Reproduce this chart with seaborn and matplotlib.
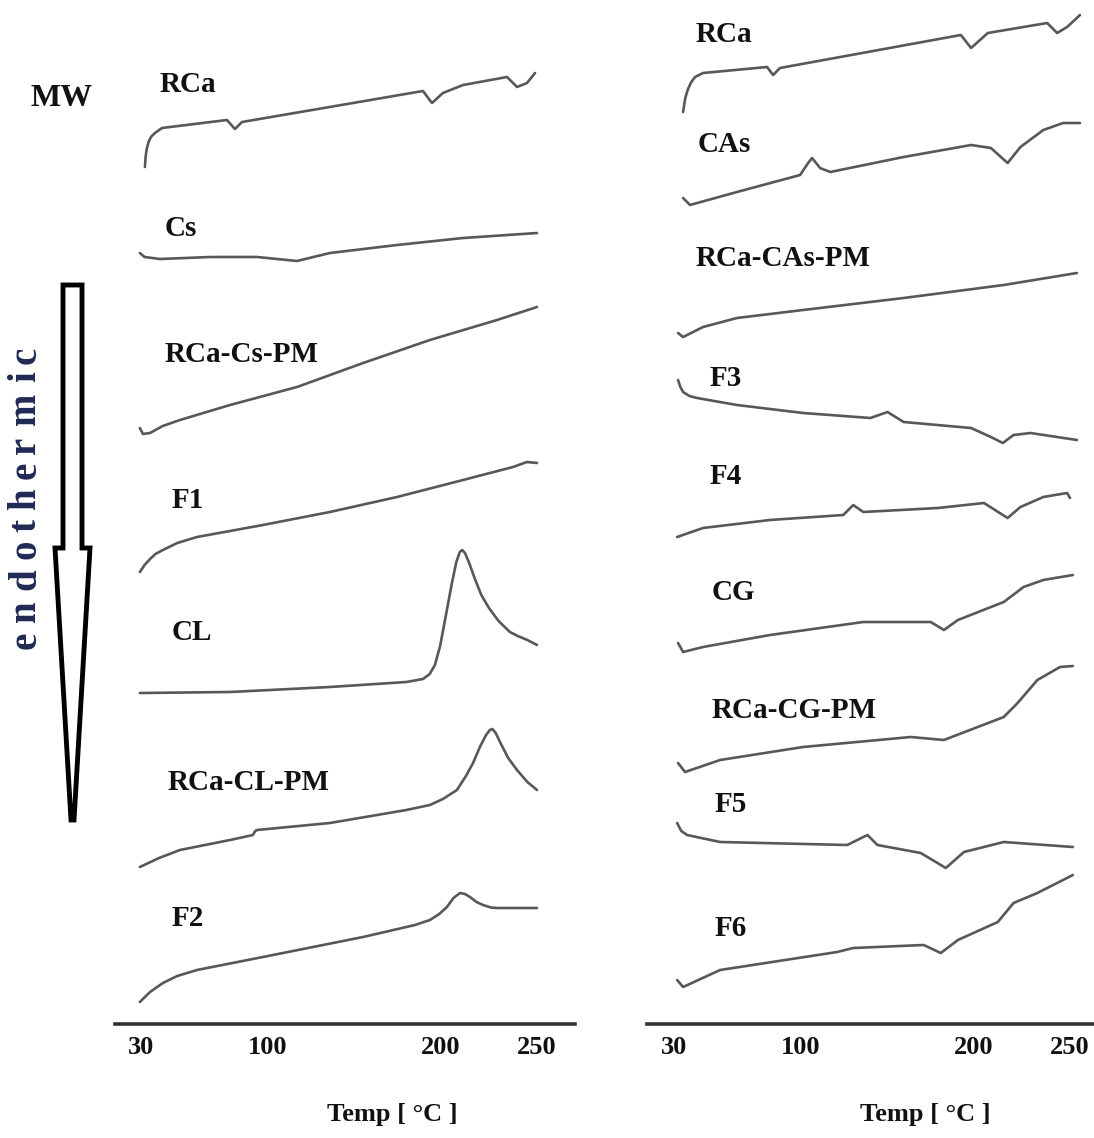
import matplotlib
matplotlib.use("Agg")
import matplotlib.pyplot as plt
import numpy as np
import pandas as pd
import seaborn as sns
from matplotlib.patches import Polygon

# ---- data (temperature in degC, heat flow in a.u., stacked) ----
left_names = ["RCa", "Cs", "RCa-Cs-PM", "F1", "CL", "RCa-CL-PM", "F2"]
left_temps = [
    [32.2, 32.6, 33.3, 34.2, 35.5, 37.7, 41.6, 77.4, 81.8, 85.7, 189.6, 194.8, 201.0, 211.5, 234.4, 239.6,
     244.8, 249.0],
    [29.4, 32.0, 40.5, 68.0, 94.0, 116.8, 135.8, 174.6, 211.5, 250.0],
    [29.4, 31.1, 35.0, 42.0, 51.5, 79.1, 116.8, 155.0, 193.6, 229.2, 250.0],
    [29.4, 32.0, 35.0, 38.0, 42.1, 50.0, 60.9, 97.2, 135.8, 174.6, 211.5, 237.5, 244.8, 250.0],
    [29.4, 79.1, 135.8, 180.0, 189.6, 193.5, 196.5, 199.5, 202.5, 205.5, 208.0, 209.8, 211.0, 212.5, 214.5,
     217.5, 221.0, 225.0, 230.0, 235.9, 240.0, 245.0, 250.0],
    [29.4, 40.0, 51.5, 79.1, 91.7, 93.0, 94.0, 135.8, 180.0, 193.6, 201.0, 208.3, 213.0, 216.7, 220.5, 223.5,
     225.5, 226.8, 228.5, 231.0, 235.0, 239.6, 245.0, 250.0],
    [29.4, 35.0, 42.1, 50.0, 60.9, 97.2, 155.0, 185.0, 193.6, 199.0, 203.1, 206.5, 209.9, 212.5, 215.1, 218.5,
     221.9, 226.0, 229.2, 250.0],
]
left_flow = [
    [85.7, 86.8, 87.6, 88.2, 88.7, 89.1, 89.6, 90.4, 89.5, 90.2, 93.3, 92.1, 93.1, 93.9, 94.7, 93.7, 94.1, 95.1],
    [77.1, 76.7, 76.5, 76.7, 76.7, 76.3, 77.1, 77.9, 78.6, 79.1],
    [59.6, 59.0, 59.1, 59.8, 60.4, 61.9, 63.7, 66.1, 68.4, 70.4, 71.7],
    [45.2, 45.9, 46.5, 47.0, 47.4, 48.1, 48.7, 49.9, 51.2, 52.7, 54.4, 55.7, 56.2, 56.1],
    [33.1, 33.2, 33.7, 34.2, 34.5, 35.0, 35.9, 37.8, 40.8, 43.9, 46.2, 47.2, 47.4, 47.1, 46.2, 44.6, 42.9, 41.6,
     40.3, 39.2, 38.8, 38.4, 37.9],
    [15.7, 16.6, 17.4, 18.4, 18.9, 19.3, 19.4, 20.1, 21.4, 21.9, 22.5, 23.4, 24.8, 26.1, 27.8, 28.9, 29.4, 29.5,
     29.1, 28.1, 26.6, 25.4, 24.2, 23.4],
    [2.2, 3.2, 4.1, 4.8, 5.4, 6.7, 8.7, 9.9, 10.4, 11.0, 11.7, 12.6, 13.1, 13.0, 12.7, 12.2, 11.9, 11.65, 11.6,
     11.6],
]

right_names = ["RCa", "CAs", "RCa-CAs-PM", "F3", "F4", "CG", "RCa-CG-PM", "F5", "F6"]
right_temps = [
    [35.0, 36.2, 37.7, 39.5, 41.6, 46.0, 81.3, 84.6, 88.4, 192.4, 198.3, 207.2, 238.1, 243.3, 248.5, 255.2],
    [35.0, 38.8, 64.7, 99.5, 104.1, 106.4, 111.0, 116.9, 159.3, 198.3, 208.8, 217.5, 224.2, 236.1, 246.4, 255.2],
    [32.2, 35.0, 46.0, 64.7, 101.2, 159.3, 215.5, 253.6],
    [32.2, 33.5, 35.0, 38.5, 42.7, 64.7, 101.2, 140.1, 150.0, 159.3, 198.3, 208.8, 215.0, 220.6, 229.4, 253.6],
    [31.7, 46.0, 82.9, 124.4, 130.2, 136.0, 179.1, 205.2, 217.5, 224.2, 236.1, 248.5, 250.0],
    [32.2, 35.0, 46.0, 82.9, 136.0, 175.0, 182.6, 190.7, 215.5, 225.8, 236.1, 251.5],
    [32.2, 36.1, 55.4, 101.2, 163.4, 182.6, 215.5, 222.7, 233.0, 244.8, 251.5],
    [31.7, 34.0, 37.2, 55.4, 126.7, 138.4, 144.2, 169.2, 183.7, 194.2, 215.5, 251.5],
    [31.7, 35.0, 55.4, 120.9, 130.2, 170.9, 180.8, 190.7, 212.4, 220.6, 233.0, 251.5],
]
right_flow = [
    [91.2, 92.6, 93.5, 94.2, 94.7, 95.1, 95.7, 94.9, 95.6, 98.9, 97.6, 99.1, 100.1, 99.1, 99.7, 100.9],
    [82.6, 81.9, 83.2, 84.9, 86.1, 86.6, 85.6, 85.2, 86.7, 87.9, 87.6, 86.1, 87.7, 89.4, 90.1, 90.1],
    [69.1, 68.7, 69.7, 70.6, 71.4, 72.6, 73.9, 75.1],
    [64.4, 63.7, 63.2, 62.8, 62.6, 61.9, 61.1, 60.6, 61.2, 60.2, 59.6, 58.7, 58.1, 58.9, 59.1, 58.4],
    [48.7, 49.6, 50.4, 50.9, 51.9, 51.2, 51.6, 52.1, 50.6, 51.7, 52.7, 53.1, 52.6],
    [38.1, 37.2, 37.7, 38.9, 40.2, 40.2, 39.4, 40.4, 42.2, 43.7, 44.4, 44.9],
    [26.1, 25.2, 26.4, 27.7, 28.7, 28.4, 30.7, 32.1, 34.4, 35.7, 35.8],
    [20.1, 19.3, 18.9, 18.2, 17.9, 18.9, 17.9, 17.1, 15.6, 17.2, 18.2, 17.7],
    [4.4, 3.7, 5.4, 7.2, 7.6, 7.9, 7.1, 8.4, 10.2, 12.1, 13.1, 14.9],
]

tick_values = [30, 100, 200, 250]
tick_labels = ["30", "100", "200", "250"]

# label anchors (temp, a.u.) - layout only
left_label_pos = [(40.5, 93.9), (43.2, 79.6), (43.2, 66.9), (47.1, 52.4), (47.1, 39.2), (44.9, 24.2), (47.1, 10.6)]
right_label_pos = [(41.6, 98.9), (43.2, 87.9), (41.6, 76.6), (49.8, 64.6), (49.8, 54.7), (50.9, 43.1),
                   (50.9, 31.4), (52.6, 21.9), (52.6, 9.6)]

# the printed temperature axis is not linear: piecewise scale through the tick marks
KNOT_T = np.array([30.0, 100.0, 200.0, 250.0])
KNOT_P = np.array([0.0, 127.0, 300.0, 396.0])
S_LO = 127.0 / 70.0
S_HI = 96.0 / 50.0


def fwd(t):
    t = np.asarray(t, dtype=float)
    return (np.interp(t, KNOT_T, KNOT_P)
            + np.where(t < 30, (t - 30) * S_LO, 0.0)
            + np.where(t > 250, (t - 250) * S_HI, 0.0))


def inv(p):
    p = np.asarray(p, dtype=float)
    return (np.interp(p, KNOT_P, KNOT_T)
            + np.where(p < 0, p / S_LO, 0.0)
            + np.where(p > 396, (p - 396) / S_HI, 0.0))


def to_frame(names, temps, flows):
    rows = []
    for name, t, f in zip(names, temps, flows):
        for a, b in zip(t, f):
            rows.append({"sample": name, "temp": a, "heat_flow": b})
    return pd.DataFrame(rows)


sns.set_style("white")
plt.rcParams["font.family"] = ["Liberation Serif", "DejaVu Serif"]
plt.rcParams["font.weight"] = "bold"

W, H = 1094, 1138
fig = plt.figure(figsize=(W / 100, H / 100), dpi=100)

ax_l = fig.add_axes([115 / W, (H - 1024) / H, 460 / W, 1024 / H])
ax_r = fig.add_axes([647 / W, (H - 1024) / H, 447 / W, 1024 / H])

LINE = "#585858"
panels = [
    (ax_l, left_names, left_temps, left_flow, left_label_pos, (15.7, 269.8), 0.602),
    (ax_r, right_names, right_temps, right_flow, right_label_pos, (15.1, 262.5), 0.622),
]

for ax, names, temps, flows, lpos, xlim, xlab in panels:
    df = to_frame(names, temps, flows)
    ax.set_xscale("function", functions=(fwd, inv))
    sns.lineplot(data=df, x="temp", y="heat_flow", units="sample", estimator=None,
                 sort=False, color=LINE, linewidth=1.9, ax=ax, legend=False)
    for line in ax.lines:
        line.set_solid_joinstyle("round")
        line.set_solid_capstyle("round")
    for name, (tx, ty) in zip(names, lpos):
        ax.text(tx, ty, name, fontsize=21, fontweight="bold", ha="left", va="center",
                color="#111111")
    ax.set_xlim(*xlim)
    ax.set_ylim(0, 102.4)
    ax.set_yticks([])
    ax.set_ylabel("")
    ax.set_xticks(tick_values)
    ax.set_xticklabels(tick_labels)
    ax.xaxis.set_minor_locator(matplotlib.ticker.NullLocator())
    ax.tick_params(axis="x", direction="in", length=4, width=1.5, pad=9,
                   labelsize=19, colors="#111111")
    for s in ["top", "left", "right"]:
        ax.spines[s].set_visible(False)
    ax.spines["bottom"].set_linewidth(2.6)
    ax.spines["bottom"].set_color("#333333")
    ax.set_xlabel("Temp [ °C ]", fontsize=19, fontweight="bold", color="#111111")
    ax.xaxis.set_label_coords(xlab, -0.077)
    ax.patch.set_alpha(0)

# MW marker
fig.text(62 / W, 1 - 98 / H, "MW", fontsize=23, fontweight="bold", ha="center", va="center",
         color="#111111")

# hollow endothermic arrow
pts = [(63, 285), (82, 285), (82, 548), (90, 548), (74, 820), (71, 820), (55, 548), (63, 548)]
arrow = Polygon([(x / W, 1 - y / H) for x, y in pts], closed=True, facecolor="white",
                edgecolor="black", linewidth=3.5, transform=fig.transFigure, joinstyle="miter")
fig.patches.append(arrow)

# spaced-out vertical "endothermic"
word = "endothermic"
adv = {"e": 0.444, "n": 0.556, "d": 0.556, "o": 0.5, "t": 0.333, "h": 0.556,
       "r": 0.444, "m": 0.833, "i": 0.278, "c": 0.444}
total = sum(adv[c] for c in word)
y_bot, y_top = 653, 343
scale = (y_bot - y_top) / total
pos = y_bot
for ch in word:
    w = adv[ch] * scale
    cy = pos - w / 2
    fig.text(26 / W, 1 - cy / H, ch, fontsize=28, fontweight="bold", rotation=90,
             ha="center", va="center", color="#1f2a55")
    pos -= w

fig.savefig("out.png", dpi=100)
